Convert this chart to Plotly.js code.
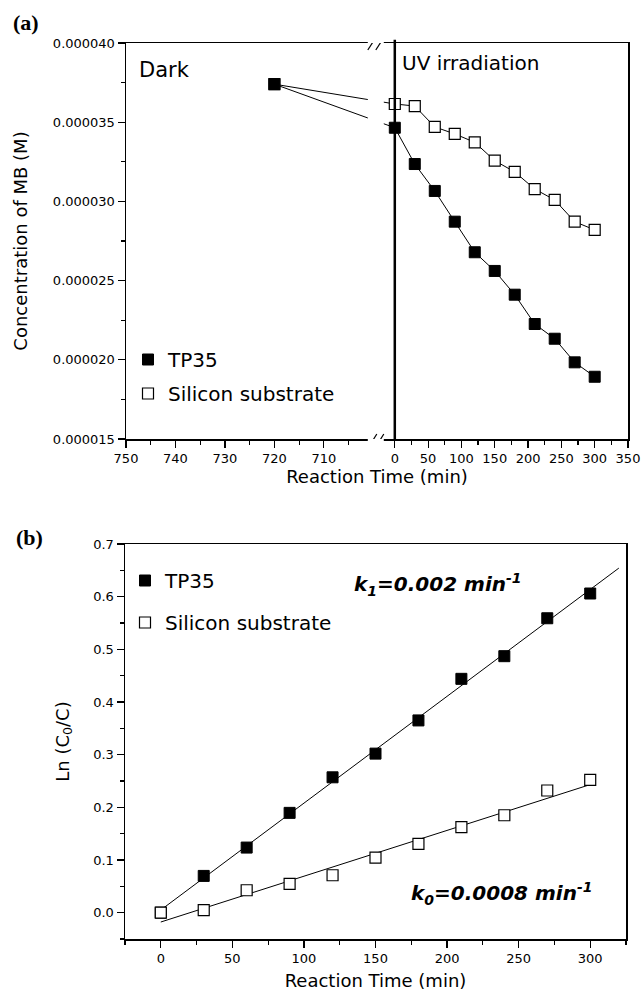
<!DOCTYPE html>
<html><head><meta charset="utf-8">
<script src="https://cdn.plot.ly/plotly-3.0.1.min.js"></script>
<style>html,body{margin:0;padding:0;background:#fff}</style>
</head><body>
<div id="chart" style="width:644px;height:1001px"></div>
<script>
// ---------- Panel (a): concentration of MB ----------
const darkTime = [720];
const darkTP35 = [3.74e-5];
const darkSilicon = [3.74e-5];
const uvTime = [0, 30, 60, 90, 120, 150, 180, 210, 240, 270, 300];
const uvTP35 = [3.465e-5, 3.236e-5, 3.066e-5, 2.872e-5, 2.679e-5, 2.561e-5, 2.411e-5, 2.226e-5, 2.133e-5, 1.984e-5, 1.893e-5];
const uvSilicon = [3.615e-5, 3.602e-5, 3.470e-5, 3.426e-5, 3.373e-5, 3.257e-5, 3.186e-5, 3.078e-5, 3.009e-5, 2.872e-5, 2.820e-5];
const darkTickLabels = [750, 740, 730, 720, 710];
const darkMinorTicks = [745, 735, 725, 715, 705];
const uvTickLabels = [0, 50, 100, 150, 200, 250, 300, 350];
const uvMinorTicks = [25, 75, 125, 175, 225, 275, 325];

// ---------- Panel (b): Ln(C0/C) ----------
const kinTime = [0, 30, 60, 90, 120, 150, 180, 210, 240, 270, 300];
const lnTP35 = [0.0, 0.0698, 0.1236, 0.1895, 0.257, 0.302, 0.365, 0.444, 0.487, 0.559, 0.606];
const lnSilicon = [0.0, 0.005, 0.0426, 0.0546, 0.071, 0.1046, 0.1306, 0.1624, 0.185, 0.232, 0.252];
const seriesNames = ['TP35', 'Silicon substrate'];
const rateLabels = ['k<sub>1</sub>=0.002 min<sup>-1</sup>', 'k<sub>0</sub>=0.0008 min<sup>-1</sup>'];

// ---------- broken x axis scale for panel (a) ----------
const DARK_LEFT = darkTickLabels[0];     // 750 at the left edge, axis runs right-to-left
const UV_OFFSET = 54.34;                 // dark span + break, in dark-minute units
const UV_SCALE = 0.1347;                 // uv minutes -> dark-minute units
const uDark = t => DARK_LEFT - t;
const uUV = t => UV_OFFSET + t * UV_SCALE;
const uvEnd = uvTickLabels[uvTickLabels.length - 1];

// ---------- least-squares fits for panel (b) ----------
function linfit(x, y) {
  const n = x.length;
  const mx = x.reduce((a, b) => a + b, 0) / n;
  const my = y.reduce((a, b) => a + b, 0) / n;
  let sxy = 0, sxx = 0;
  for (let i = 0; i < n; i++) { sxy += (x[i] - mx) * (y[i] - my); sxx += (x[i] - mx) ** 2; }
  const m = sxy / sxx;
  return { m, b: my - m * mx };
}
const fitA = linfit(kinTime, lnTP35);
const fitB = linfit(kinTime, lnSilicon);
const fitXA = [kinTime[0], 320];
const fitXB = [kinTime[0], kinTime[kinTime.length - 1]];

const FONT = 'DejaVu Sans, sans-serif';
const tickFont = { family: FONT, size: 13, color: '#000' };
const titleFont = { family: FONT, size: 18, color: '#000' };

const filled = { symbol: 'square', size: 11, color: '#000', line: { color: '#000', width: 1 } };
const open = { symbol: 'square', size: 11, color: '#fff', line: { color: '#000', width: 1.2 } };
const thin = { color: '#000', width: 1 };

const traces = [
  // panel (a) connecting lines
  { x: darkTime.map(uDark).concat(uvTime.map(uUV)), y: darkSilicon.concat(uvSilicon), mode: 'lines', line: thin, showlegend: false, hoverinfo: 'skip', xaxis: 'x', yaxis: 'y' },
  { x: darkTime.map(uDark).concat(uvTime.map(uUV)), y: darkTP35.concat(uvTP35), mode: 'lines', line: thin, showlegend: false, hoverinfo: 'skip', xaxis: 'x', yaxis: 'y' },
  // panel (a) markers
  { x: darkTime.map(uDark).concat(uvTime.map(uUV)), y: darkSilicon.concat(uvSilicon), mode: 'markers', name: seriesNames[1], marker: open, legend: 'legend', legendgroup: 'aSi', legendrank: 2, xaxis: 'x', yaxis: 'y' },
  { x: darkTime.map(uDark).concat(uvTime.map(uUV)), y: darkTP35.concat(uvTP35), mode: 'markers', name: seriesNames[0], marker: filled, legend: 'legend', legendgroup: 'aTP', legendrank: 1, xaxis: 'x', yaxis: 'y' },
  // panel (b) fit lines
  { x: fitXA, y: fitXA.map(t => fitA.b + fitA.m * t), mode: 'lines', line: thin, showlegend: false, hoverinfo: 'skip', xaxis: 'x2', yaxis: 'y2' },
  { x: fitXB, y: fitXB.map(t => fitB.b + fitB.m * t), mode: 'lines', line: thin, showlegend: false, hoverinfo: 'skip', xaxis: 'x2', yaxis: 'y2' },
  // panel (b) markers
  { x: kinTime, y: lnTP35, mode: 'markers', name: seriesNames[0], marker: filled, legend: 'legend2', legendgroup: 'bTP', legendrank: 1, xaxis: 'x2', yaxis: 'y2' },
  { x: kinTime, y: lnSilicon, mode: 'markers', name: seriesNames[1], marker: open, legend: 'legend2', legendgroup: 'bSi', legendrank: 2, xaxis: 'x2', yaxis: 'y2' }
];

const axisCommon = {
  showline: true, mirror: true, linecolor: '#000', linewidth: 1.5,
  ticks: 'outside', ticklen: 7, tickwidth: 1.2, tickcolor: '#000',
  showgrid: false, zeroline: false, tickfont: tickFont
};

const ax0 = uUV(0);
const yA = [1.5e-5, 4.0e-5];

const layout = {
  width: 644, height: 1001,
  margin: { l: 0, r: 0, t: 0, b: 0 },
  paper_bgcolor: '#fff', plot_bgcolor: '#fff',
  showlegend: true,
  xaxis: Object.assign({}, axisCommon, {
    domain: [126 / 644, 628 / 644], range: [0, uUV(uvEnd)], anchor: 'y',
    tickmode: 'array',
    tickvals: darkTickLabels.map(uDark).concat(uvTickLabels.map(uUV)),
    ticktext: darkTickLabels.map(String).concat(uvTickLabels.map(String)),
    minor: { tickmode: 'array', tickvals: darkMinorTicks.map(uDark).concat(uvMinorTicks.map(uUV)), ticks: 'outside', ticklen: 4, tickwidth: 1.2, tickcolor: '#000' },
    title: { text: 'Reaction Time (min)', font: titleFont, standoff: 1 }
  }),
  yaxis: Object.assign({}, axisCommon, {
    domain: [1 - 439 / 1001, 1 - 43 / 1001], range: yA, anchor: 'x',
    tickmode: 'linear', tick0: 1.5e-5, dtick: 5e-6, tickformat: '.6f',
    minor: { dtick: 2.5e-6, ticks: 'outside', ticklen: 4, tickwidth: 1.2, tickcolor: '#000' },
    title: { text: 'Concentration of MB (M)', font: titleFont, standoff: 20 }
  }),
  xaxis2: Object.assign({}, axisCommon, {
    domain: [125 / 644, 626 / 644], range: [-25, 325], anchor: 'y2',
    tickmode: 'linear', tick0: 0, dtick: 50,
    minor: { dtick: 25, ticks: 'outside', ticklen: 4, tickwidth: 1.2, tickcolor: '#000' },
    title: { text: 'Reaction Time (min)', font: titleFont, standoff: 9 }
  }),
  yaxis2: Object.assign({}, axisCommon, {
    domain: [1 - 939 / 1001, 1 - 544 / 1001], range: [-0.05, 0.7], anchor: 'x2',
    tickmode: 'linear', tick0: 0, dtick: 0.1, tickformat: '.1f',
    minor: { dtick: 0.05, ticks: 'outside', ticklen: 4, tickwidth: 1.2, tickcolor: '#000' },
    title: { text: 'Ln (C<sub>0</sub>/C)', font: titleFont, standoff: 19 }
  }),
  legend: {
    x: 128 / 644, y: 1 - 340 / 1001, xanchor: 'left', yanchor: 'top',
    bgcolor: 'rgba(0,0,0,0)', borderwidth: 0, traceorder: 'grouped', tracegroupgap: 5,
    font: { family: FONT, size: 20, color: '#000' }
  },
  legend2: {
    x: 125 / 644, y: 1 - 561 / 1001, xanchor: 'left', yanchor: 'top',
    bgcolor: 'rgba(0,0,0,0)', borderwidth: 0, traceorder: 'grouped', tracegroupgap: 13,
    font: { family: FONT, size: 20, color: '#000' }
  },
  shapes: [
    // axis break gap
    { type: 'rect', xref: 'x', xsizemode: 'pixel', xanchor: ax0, x0: -27, x1: -11,
      yref: 'y domain', y0: -0.01, y1: 1.01, fillcolor: '#fff', line: { width: 0 }, layer: 'above' },
    // boundary between dark and UV
    { type: 'line', xref: 'x', x0: ax0, x1: ax0, yref: 'y domain', y0: 0, y1: 1.008,
      line: { color: '#000', width: 2.5 }, layer: 'above' },
    // break slashes bottom
    { type: 'line', xref: 'x', xsizemode: 'pixel', xanchor: ax0, x0: -26, x1: -18,
      yref: 'y', ysizemode: 'pixel', yanchor: yA[0], y0: -8, y1: 5, line: { color: '#000', width: 1.2 }, layer: 'above' },
    { type: 'line', xref: 'x', xsizemode: 'pixel', xanchor: ax0, x0: -19, x1: -11,
      yref: 'y', ysizemode: 'pixel', yanchor: yA[0], y0: -8, y1: 5, line: { color: '#000', width: 1.2 }, layer: 'above' },
    // break slashes top
    { type: 'line', xref: 'x', xsizemode: 'pixel', xanchor: ax0, x0: -27, x1: -18,
      yref: 'y', ysizemode: 'pixel', yanchor: yA[1], y0: -7, y1: 7, line: { color: '#000', width: 1.2 }, layer: 'above' },
    { type: 'line', xref: 'x', xsizemode: 'pixel', xanchor: ax0, x0: -19, x1: -10,
      yref: 'y', ysizemode: 'pixel', yanchor: yA[1], y0: -7, y1: 7, line: { color: '#000', width: 1.2 }, layer: 'above' }
  ],
  annotations: [
    { text: '<b>(a)</b>', xref: 'paper', yref: 'paper', x: 26 / 644, y: 1 - 22 / 1001, xanchor: 'center', yanchor: 'middle', showarrow: false,
      font: { family: 'Liberation Serif, serif', size: 22, color: '#000' } },
    { text: '<b>(b)</b>', xref: 'paper', yref: 'paper', x: 29 / 644, y: 1 - 537 / 1001, xanchor: 'center', yanchor: 'middle', showarrow: false,
      font: { family: 'Liberation Serif, serif', size: 22, color: '#000' } },
    { text: 'Dark', xref: 'paper', yref: 'paper', x: 137 / 644, y: 1 - 70 / 1001, xanchor: 'left', yanchor: 'middle', showarrow: false,
      font: { family: FONT, size: 21, color: '#000' } },
    { text: 'UV irradiation', xref: 'paper', yref: 'paper', x: 400 / 644, y: 1 - 63 / 1001, xanchor: 'left', yanchor: 'middle', showarrow: false,
      font: { family: FONT, size: 20, color: '#000' } },
    { text: '<b><i>' + rateLabels[0] + '</i></b>', xref: 'paper', yref: 'paper', x: 438 / 644, y: 1 - 584 / 1001, xanchor: 'center', yanchor: 'middle', showarrow: false,
      font: { family: FONT, size: 20, color: '#000' } },
    { text: '<b><i>' + rateLabels[1] + '</i></b>', xref: 'paper', yref: 'paper', x: 501 / 644, y: 1 - 893 / 1001, xanchor: 'center', yanchor: 'middle', showarrow: false,
      font: { family: FONT, size: 20, color: '#000' } }
  ]
};

Plotly.newPlot('chart', traces, layout, { displayModeBar: false, staticPlot: true });
</script>
</body></html>
